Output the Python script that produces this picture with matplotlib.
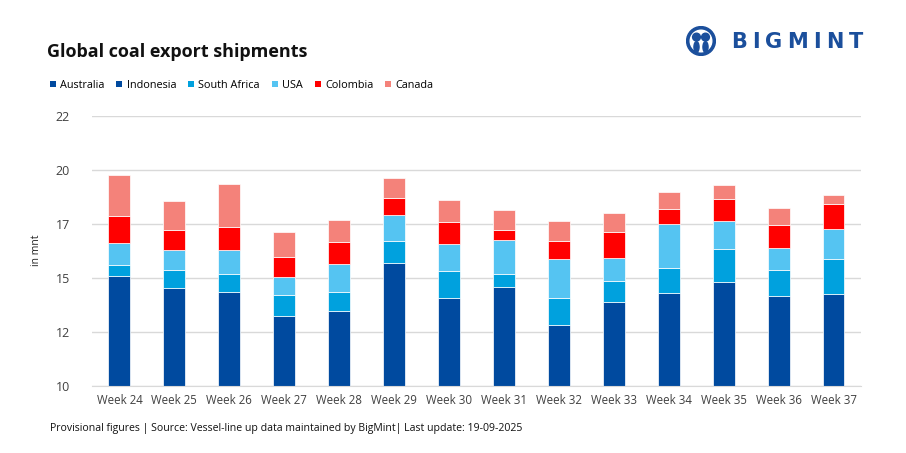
import matplotlib
matplotlib.use("Agg")
import matplotlib.pyplot as plt
from matplotlib.patches import Patch, Circle, Ellipse
import numpy as np

weeks = ["Week 24", "Week 25", "Week 26", "Week 27", "Week 28", "Week 29", "Week 30",
         "Week 31", "Week 32", "Week 33", "Week 34", "Week 35", "Week 36", "Week 37"]
australia = [7.0, 6.8, 6.9, 6.5, 6.6, 7.3, 6.9, 7.0, 6.4, 6.8, 6.9, 7.1, 6.9, 7.0]
indonesia = [8.07, 7.73, 7.45, 6.74, 6.87, 8.38, 7.14, 7.58, 6.42, 7.08, 7.41, 7.69, 7.24, 7.25]
south_africa = [0.52, 0.82, 0.83, 0.97, 0.86, 1.01, 1.28, 0.61, 1.23, 0.97, 1.16, 1.54, 1.21, 1.61]
usa = [1.00, 0.92, 1.12, 0.81, 1.29, 1.19, 1.24, 1.54, 1.81, 1.05, 2.02, 1.30, 1.03, 1.41]
colombia = [1.25, 0.94, 1.03, 0.96, 1.04, 0.81, 1.04, 0.47, 0.86, 1.23, 0.68, 1.00, 1.08, 1.13]
canada = [1.93, 1.34, 1.99, 1.15, 1.00, 0.92, 1.00, 0.95, 0.91, 0.85, 0.78, 0.66, 0.75, 0.44]

series_names = ["Australia", "Indonesia", "South Africa", "USA", "Colombia", "Canada"]
series_vals = [australia, indonesia, south_africa, usa, colombia, canada]
colors = ["#004A9F", "#004A9F", "#00A1DE", "#55C4F2", "#FF0000", "#F4827A"]

ytick_vals = [10, 12.5, 15, 17.5, 20, 22.5]
ytick_labels = ["10", "12", "15", "17", "20", "22"]

plt.rcParams['font.family'] = ['Open Sans', 'DejaVu Sans']

fig = plt.figure(figsize=(9.06, 4.53), dpi=100)
ax = fig.add_axes([0.1015, 0.1486, 0.8488, 0.596])

x = np.arange(len(weeks))
bottom = np.zeros(len(weeks))
for name, vals, c in zip(series_names, series_vals, colors):
    v = np.array(vals)
    ax.bar(x, v, bottom=bottom, width=0.40, color=c, edgecolor="white", linewidth=0.5,
           label=name, zorder=3)
    bottom += v

ax.set_xlim(-0.5, len(weeks) - 0.5)
ax.set_ylim(10, 22.5)
ax.set_yticks(ytick_vals)
ax.set_yticklabels(ytick_labels)
ax.set_xticks(x)
ax.set_xticklabels(weeks)
ax.grid(axis="y", color="#D9D9D9", linewidth=1, zorder=0)
for s in ["top", "right", "left"]:
    ax.spines[s].set_visible(False)
ax.spines["bottom"].set_color("#D9D9D9")
ax.spines["bottom"].set_zorder(4)
ax.tick_params(axis="both", length=0, labelcolor="#404040")
ax.tick_params(axis="y", pad=16, labelsize=9)
ax.tick_params(axis="x", pad=6, labelsize=8.3)
ax.set_ylabel("in mnt", fontsize=7.5, color="#202020", labelpad=10)

handles = [Patch(facecolor=c, edgecolor="none") for c in colors]
fig.legend(handles, series_names, loc="center left", bbox_to_anchor=(0.055, 0.812),
           ncol=6, frameon=False, fontsize=7.8, handlelength=0.55, handleheight=0.55,
           handletextpad=0.4, columnspacing=1.1, borderaxespad=0, borderpad=0)

fig.text(0.052, 0.885, "Global coal export shipments", fontsize=13, fontweight="bold",
         color="#111111", va="center", ha="left")

fig.text(0.055, 0.055,
         "Provisional figures | Source: Vessel-line up data maintained by BigMint| Last update: 19-09-2025",
         fontsize=7.6, color="#111111", va="center", ha="left")

# Logo
logo_color = "#1B4F9C"
renderer = fig.canvas.get_renderer()
xpos = 731.0
for ch in "BIGMINT":
    t = fig.text(xpos / 906, 1 - 42.5 / 453, ch, fontsize=15, fontweight="heavy",
                 family="DejaVu Sans", color=logo_color, va="center", ha="left")
    w = t.get_window_extent(renderer).width
    xpos += w + 5.2

lax = fig.add_axes([686 / 906, 1 - 56 / 453, 30 / 906, 30 / 453])
lax.set_xlim(0, 1); lax.set_ylim(0, 1); lax.axis("off")
lax.add_patch(Circle((0.5, 0.5), 0.48, color=logo_color))
lax.add_patch(Circle((0.5, 0.5), 0.36, color="white"))
lax.add_patch(Circle((0.35, 0.63), 0.13, color=logo_color))
lax.add_patch(Circle((0.65, 0.63), 0.13, color=logo_color))
lax.add_patch(Ellipse((0.35, 0.3), 0.17, 0.36, color=logo_color))
lax.add_patch(Ellipse((0.65, 0.3), 0.17, 0.36, color=logo_color))

fig.savefig("out.png", dpi=100)
